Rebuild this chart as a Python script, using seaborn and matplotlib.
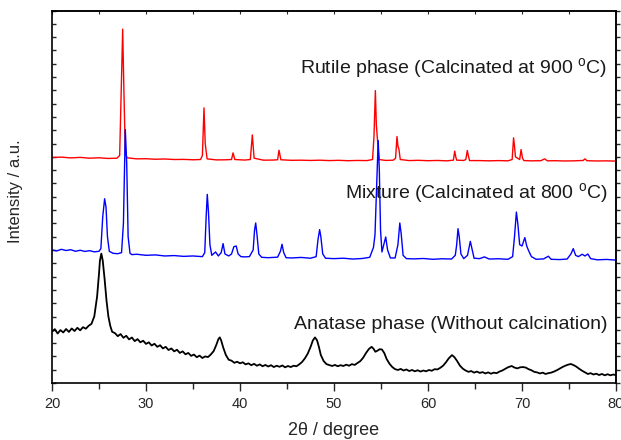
import pandas as pd
import seaborn as sns
import matplotlib.pyplot as plt
from matplotlib.ticker import MultipleLocator, NullFormatter

# XRD patterns of TiO2
rutile_x = [20.0, 21.0, 22.0, 23.0, 24.0, 25.0, 26.0, 26.9, 27.2, 27.4, 27.52, 27.65, 27.8, 28.0,
            29.0, 30.0, 31.0, 32.0, 33.0, 34.0, 35.0, 35.8, 36.0, 36.17, 36.3, 36.5,
            37.5, 38.5, 39.1, 39.26, 39.45, 40.5, 41.1, 41.31, 41.5, 42.5, 43.5, 44.0, 44.15, 44.35,
            45.5, 46.5, 47.5, 48.5, 49.5, 50.5, 51.5, 52.5, 53.5, 54.1, 54.25, 54.4, 54.5, 54.6, 54.8,
            55.5, 56.3, 56.55, 56.7, 56.8, 56.9, 57.05, 58.0, 59.0, 60.0, 61.0, 62.0, 62.7, 62.84,
            62.95, 63.05, 63.8, 64.02, 64.18, 64.3, 64.42, 65.5, 66.5, 67.5, 68.5, 68.95, 69.1, 69.2,
            69.3, 69.75, 69.9, 70.05, 70.2, 71.0, 72.0, 72.4, 72.7, 73.5, 74.5, 75.5, 76.5, 76.7,
            76.9, 78.0, 79.0, 80.0]
rutile_y = [169.5, 169.8, 169.2, 169.6, 169.0, 169.3, 168.8, 169.0, 171, 230, 266, 220, 172, 169.3,
            168.5, 168.6, 168.2, 168.4, 168.0, 168.1, 167.8, 168.0, 171, 206.8, 180, 168.5,
            167.7, 167.8, 168.0, 173, 168.0, 167.6, 168.0, 186.5, 169, 167.5, 167.6, 167.8, 175, 167.8,
            167.4, 167.5, 167.3, 167.5, 167.2, 167.4, 167.1, 167.3, 167.2, 168, 185, 219.8, 194.5, 185, 168,
            167.3, 167.5, 169, 185.3, 178, 176, 168, 167.2, 167.4, 167.1, 167.3, 167.0, 167.5, 174.3,
            170, 167.5, 167.3, 168, 174.8, 170.5, 167.2, 167.2, 167.0, 167.2, 167.0, 168, 184.3, 178,
            170, 168, 175.5, 169, 167.2, 167.0, 167.1, 168.5, 167.0, 167.1, 166.9, 167.0, 167.3, 168.5,
            167.1, 166.9, 167.0, 166.8]

mixture_x = [20.0, 20.5, 21.0, 21.5, 22.0, 22.5, 23.0, 23.5, 24.0, 24.5, 25.0, 25.2, 25.4, 25.6, 25.75,
             25.9, 26.1, 26.5, 27.0, 27.4, 27.6, 27.8, 27.95, 28.1, 28.3, 28.5, 29.0, 30.0, 31.0, 32.0,
             33.0, 34.0, 35.0, 36.0, 36.25, 36.4, 36.52, 36.65, 36.8, 37.0, 37.4, 37.7, 38.0, 38.2,
             38.4, 38.8, 39.1, 39.35, 39.6, 39.8, 40.1, 40.5, 41.0, 41.4, 41.55, 41.67, 41.8, 42.0,
             42.3, 43.0, 44.0, 44.3, 44.47, 44.65, 44.9, 45.5, 46.5, 47.5, 48.1, 48.3, 48.47, 48.6,
             48.8, 49.1, 50.0, 51.0, 52.0, 53.0, 53.8, 54.2, 54.36, 54.55, 54.7, 54.82, 54.95, 55.1,
             55.3, 55.5, 55.7, 56.0, 56.5, 56.8, 57.0, 57.15, 57.35, 57.7, 58.5, 59.5, 60.5, 61.5,
             62.5, 62.9, 63.05, 63.19, 63.32, 63.5, 63.8, 64.2, 64.5, 64.7, 64.9, 65.5, 66.0, 66.5,
             67.5, 68.5, 69.0, 69.2, 69.4, 69.55, 69.75, 70.0, 70.3, 70.5, 70.7, 71.0, 71.5, 72.3,
             72.8, 73.1, 74.0, 74.8, 75.2, 75.45, 75.7, 76.0, 76.4, 76.7, 77.0, 77.3, 78.0, 79.0, 80.0]
mixture_y = [100.0, 99.3, 100.5, 99.6, 100.2, 99.0, 99.8, 98.9, 99.5, 98.6, 99.0, 101, 125, 138.5, 132,
             110, 99, 97.5, 97.2, 98, 120, 190.5, 165, 110, 97.5, 96.5, 96.8, 96.0, 96.3, 95.5,
             95.8, 95.2, 95.5, 95.0, 98, 125, 141.8, 128, 104, 96, 98.5, 95.5, 98, 104.8,
             97, 95.5, 97, 102.5, 103, 97, 95, 94.8, 95, 100, 115, 120.3, 112, 97,
             94.5, 94.2, 94.6, 99, 104.3, 98, 94.2, 94.0, 94.4, 93.8, 95, 108, 115.3, 110,
             97, 93.8, 93.5, 93.8, 93.2, 93.6, 94.5, 102, 111.5, 150, 182.3, 160, 115, 98.5,
             104, 109.8, 100, 94, 94, 104, 120.3, 112, 96, 93.5, 93.3, 93.6, 93.0, 93.4,
             93.2, 96, 104, 116, 110, 97, 93.5, 96, 106.5, 100, 93.8, 93.5, 94.8, 93.2,
             93.4, 93.0, 95, 110, 128.5, 120, 104, 103, 109.3, 103, 99.5, 95, 93.0, 93.3,
             95.3, 93.0, 92.8, 93.2, 97, 101, 96, 95, 96.8, 95.5, 97, 93.5, 92.6, 92.9, 92.4]

anatase_x = [20.0, 20.3, 20.6, 20.9, 21.2, 21.5, 21.8, 22.1, 22.4, 22.7, 23.0, 23.3, 23.6, 23.9, 24.2,
             24.5, 24.8, 25.0, 25.1, 25.25, 25.4, 25.6, 25.8, 26.0, 26.2, 26.4, 26.7, 27.0, 27.3, 27.6,
             27.9, 28.2, 28.5, 28.8, 29.1, 29.4, 29.7, 30.0, 30.3, 30.6, 30.9, 31.2, 31.5, 31.8, 32.1,
             32.4, 32.7, 33.0, 33.3, 33.6, 33.9, 34.2, 34.5, 34.8, 35.1, 35.4, 35.7, 36.0, 36.3, 36.6,
             36.9, 37.2, 37.5, 37.7, 37.85, 38.0, 38.2, 38.5, 38.8, 39.1, 39.4, 39.7, 40.0, 40.3, 40.6,
             40.9, 41.2, 41.5, 41.8, 42.1, 42.4, 42.7, 43.0, 43.3, 43.6, 43.9, 44.2, 44.5, 44.8, 45.1,
             45.4, 45.7, 46.0, 46.3, 46.6, 46.9, 47.2, 47.5, 47.75, 47.98, 48.2, 48.4, 48.6, 48.9, 49.2,
             49.5, 49.8, 50.1, 50.4, 50.7, 51.0, 51.3, 51.6, 51.9, 52.2, 52.5, 52.8, 53.1, 53.4, 53.7,
             54.0, 54.2, 54.4, 54.6, 54.85, 55.1, 55.35, 55.6, 55.9, 56.2, 56.5, 56.8, 57.1, 57.4, 57.7,
             58.0, 58.3, 58.6, 58.9, 59.2, 59.5, 59.8, 60.1, 60.4, 60.7, 61.0, 61.3, 61.6, 61.9, 62.2,
             62.55, 62.8, 63.1, 63.4, 63.7, 64.0, 64.3, 64.6, 64.9, 65.2, 65.5, 65.8, 66.1, 66.4, 66.7,
             67.0, 67.3, 67.6, 67.9, 68.2, 68.5, 68.9, 69.2, 69.5, 69.8, 70.1, 70.4, 70.7, 71.0, 71.3,
             71.6, 71.9, 72.2, 72.5, 72.8, 73.1, 73.4, 73.7, 74.0, 74.3, 74.6, 74.9, 75.2, 75.5, 75.8,
             76.1, 76.4, 76.7, 77.0, 77.3, 77.6, 77.9, 78.2, 78.5, 78.8, 79.1, 79.4, 79.7, 80.0]
anatase_y = [38.5, 40.5, 37.2, 39.8, 38.0, 40.6, 38.4, 41.0, 39.1, 41.5, 39.6, 42.0, 40.8, 43.0, 44.5,
             50, 65, 82, 92, 97.3, 92, 78, 62, 50, 43, 38.5, 37.5, 35.2, 36.8, 34.0,
             35.5, 32.8, 34.2, 31.5, 33.0, 30.6, 31.8, 29.4, 30.6, 28.2, 29.5, 27.2, 28.4, 26.0, 27.2,
             24.8, 26.0, 23.8, 25.0, 22.6, 23.8, 21.6, 22.6, 20.4, 21.4, 19.4, 20.6, 18.8, 20.0, 19.5,
             21.5, 24, 29, 33, 34.3, 32, 27, 21, 17.5, 16.8, 15.2, 16.0, 14.8, 15.6, 14.0,
             14.8, 13.4, 14.4, 13.0, 14.0, 12.6, 13.6, 12.4, 13.4, 12.0, 13.0, 12.2, 13.2, 11.8, 12.8,
             12.0, 13.0, 12.6, 14.0, 15.8, 18.5, 22, 27, 32, 34.3, 32, 27, 21, 16.5, 14.2,
             13.5, 12.8, 13.6, 12.6, 13.4, 12.8, 13.8, 13.0, 14.2, 13.6, 15.0, 16.5, 19.0, 22.5, 25.5,
             27.2, 25.8, 23.5, 24.2, 25.4, 25.2, 22.5, 18.0, 14.5, 12.0, 10.4, 9.8, 10.6, 9.4, 10.2,
             9.0, 9.8, 8.8, 9.6, 8.6, 9.4, 8.8, 9.8, 9.2, 10.4, 10.2, 11.4, 13.0, 15.5, 18.5,
             21, 19.5, 16.5, 13, 10.8, 9.4, 8.4, 9.0, 7.8, 8.6, 7.6, 8.2, 7.2, 8.0, 7.0,
             7.8, 7.4, 8.6, 9.4, 10.6, 11.8, 12.8, 11.6, 11.0, 11.8, 12.0, 11.6, 10.4, 9.6, 8.4,
             8.0, 7.2, 7.8, 6.8, 7.4, 7.8, 8.6, 9.6, 10.8, 12.0, 13.0, 13.8, 14.3, 13.4, 12.2,
             10.6, 9.2, 8.0, 6.8, 7.4, 6.4, 7.0, 6.0, 6.8, 5.8, 6.6, 5.8, 6.4, 5.9]

labels = ['Rutile phase (Calcinated at 900 $^{\\mathrm{o}}$C)',
          'Mixture (Calcinated at 800 $^{\\mathrm{o}}$C)',
          'Anatase phase (Without calcination)']
label_y = [236, 142.7, 44.3]
colors = ['#ff0000', '#0000ff', '#000000']

sns.set_style('ticks')
plt.rcParams['font.family'] = ['Liberation Sans', 'DejaVu Sans']
plt.rcParams['mathtext.fontset'] = 'custom'
plt.rcParams['mathtext.rm'] = 'Liberation Sans'

fig = plt.figure(figsize=(6.21, 4.4), dpi=100)
ax = fig.add_axes([0.0837, 0.1295, 0.9083, 0.8466])

series = [(rutile_x, rutile_y), (mixture_x, mixture_y), (anatase_x, anatase_y)]
for (xs, ys), c in zip(series, colors):
    df = pd.DataFrame({'x': xs, 'y': ys})
    sns.lineplot(data=df, x='x', y='y', color=c, sort=False, estimator=None,
                 linewidth=1.0 if c != '#000000' else 1.3, ax=ax)

# curve labels, right aligned
for t, yy in zip(labels, label_y):
    ax.text(79.1, yy, t, ha='right', va='center', fontsize=14, color='#1a1a1a')

ax.set_xlim(20, 80)
ax.set_ylim(0, 280)
ax.xaxis.set_major_locator(MultipleLocator(10))
ax.xaxis.set_minor_locator(MultipleLocator(5))
ax.yaxis.set_major_locator(MultipleLocator(10))
ax.yaxis.set_major_formatter(NullFormatter())
ax.tick_params(axis='x', which='major', direction='out', length=6, width=1, labelsize=10.5, pad=4)
ax.tick_params(axis='x', which='minor', direction='out', length=4, width=1)
ax.tick_params(axis='y', which='major', direction='in', length=3, width=1, left=True)

top = ax.secondary_xaxis('top')
top.xaxis.set_major_locator(MultipleLocator(5))
top.xaxis.set_major_formatter(NullFormatter())
top.tick_params(direction='in', length=2, width=0.8)
right = ax.secondary_yaxis('right')
right.yaxis.set_major_locator(MultipleLocator(10))
right.yaxis.set_major_formatter(NullFormatter())
right.tick_params(direction='out', length=3, width=1)

for s in ax.spines.values():
    s.set_linewidth(1.2)
    s.set_color('black')
for s in list(top.spines.values()) + list(right.spines.values()):
    s.set_linewidth(1.2)

ax.set_xlabel('2θ / degree', fontsize=13, labelpad=8)
ax.set_ylabel('Intensity / a.u.', fontsize=12)
ax.yaxis.set_label_coords(-0.051, 0.515)

fig.savefig('out.png', dpi=100)
